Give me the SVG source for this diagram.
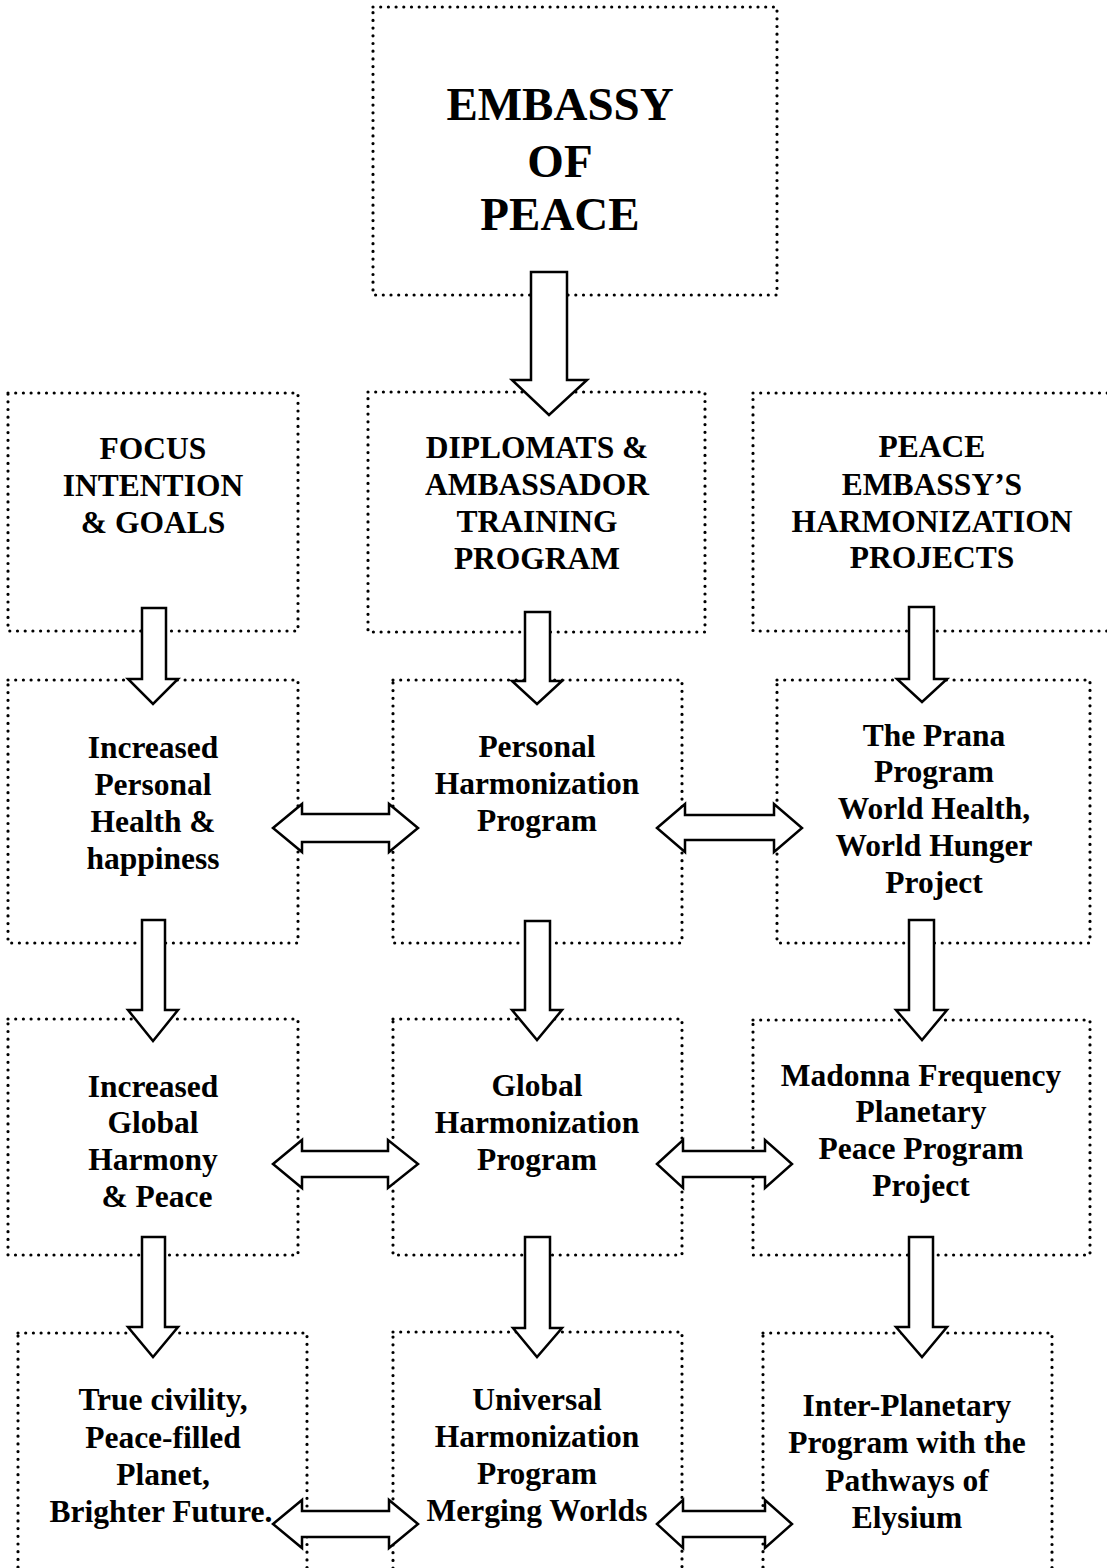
<svg xmlns="http://www.w3.org/2000/svg" width="1107" height="1568" viewBox="0 0 1107 1568">
<style>
.box{fill:none;stroke:#000;stroke-width:3.2;stroke-dasharray:0 7.7;stroke-linecap:round}
.arr{fill:#fff;stroke:#000;stroke-width:2.5;stroke-linejoin:miter}
text{font-family:"Liberation Serif","Times New Roman",serif;font-weight:bold;font-size:31.5px;text-anchor:middle;fill:#000}
.big{font-size:47px}
</style>
<rect x="0" y="0" width="1107" height="1568" fill="#fff"/>
<g id="n-embassy"><rect class="box" x="373" y="7" width="404" height="288"/><text class="big"><tspan x="560" y="120">EMBASSY</tspan><tspan x="560" y="177">OF</tspan><tspan x="560" y="230">PEACE</tspan></text></g>
<g id="n-focus"><rect class="box" x="8" y="393" width="290" height="238"/><text><tspan x="153" y="459">FOCUS</tspan><tspan x="153" y="496">INTENTION</tspan><tspan x="153" y="533">&amp; GOALS</tspan></text></g>
<g id="n-diplomats"><rect class="box" x="368" y="392" width="337" height="240"/><text><tspan x="537" y="458">DIPLOMATS &amp;</tspan><tspan x="537" y="495">AMBASSADOR</tspan><tspan x="537" y="532">TRAINING</tspan><tspan x="537" y="569">PROGRAM</tspan></text></g>
<g id="n-projects"><rect class="box" x="753" y="393" width="362" height="238"/><text><tspan x="932" y="457">PEACE</tspan><tspan x="932" y="495">EMBASSY’S</tspan><tspan x="932" y="532">HARMONIZATION</tspan><tspan x="932" y="568">PROJECTS</tspan></text></g>
<g id="n-health"><rect class="box" x="8" y="680" width="290" height="263"/><text><tspan x="153" y="758">Increased</tspan><tspan x="153" y="795">Personal</tspan><tspan x="153" y="832">Health &amp;</tspan><tspan x="153" y="869">happiness</tspan></text></g>
<g id="n-personal"><rect class="box" x="393" y="680" width="289" height="263"/><text><tspan x="537" y="757">Personal</tspan><tspan x="537" y="794">Harmonization</tspan><tspan x="537" y="831">Program</tspan></text></g>
<g id="n-prana"><rect class="box" x="777" y="680" width="313" height="263"/><text><tspan x="934" y="746">The Prana</tspan><tspan x="934" y="782">Program</tspan><tspan x="934" y="819">World Health,</tspan><tspan x="934" y="856">World Hunger</tspan><tspan x="934" y="893">Project</tspan></text></g>
<g id="n-harmony"><rect class="box" x="8" y="1019" width="290" height="236"/><text><tspan x="153" y="1097">Increased</tspan><tspan x="153" y="1133">Global</tspan><tspan x="153" y="1170">Harmony</tspan><tspan x="157" y="1207">&amp; Peace</tspan></text></g>
<g id="n-global"><rect class="box" x="393" y="1019" width="289" height="236"/><text><tspan x="537" y="1096">Global</tspan><tspan x="537" y="1133">Harmonization</tspan><tspan x="537" y="1170">Program</tspan></text></g>
<g id="n-madonna"><rect class="box" x="753" y="1020" width="337" height="235"/><text><tspan x="921" y="1086">Madonna Frequency</tspan><tspan x="921" y="1122">Planetary</tspan><tspan x="921" y="1159">Peace Program</tspan><tspan x="921" y="1196">Project</tspan></text></g>
<g id="n-civility"><rect class="box" x="18" y="1333" width="289" height="240"/><text><tspan x="163" y="1410">True civility,</tspan><tspan x="163" y="1448">Peace-filled</tspan><tspan x="163" y="1485">Planet,</tspan><tspan x="161" y="1522">Brighter Future.</tspan></text></g>
<g id="n-universal"><rect class="box" x="393" y="1332" width="289" height="241"/><text><tspan x="537" y="1410">Universal</tspan><tspan x="537" y="1447">Harmonization</tspan><tspan x="537" y="1484">Program</tspan><tspan x="537" y="1521">Merging Worlds</tspan></text></g>
<g id="n-interplanetary"><rect class="box" x="763" y="1333" width="289" height="240"/><text><tspan x="907" y="1416">Inter-Planetary</tspan><tspan x="907" y="1453">Program with the</tspan><tspan x="907" y="1491">Pathways of</tspan><tspan x="907" y="1528">Elysium</tspan></text></g>
<g id="connectors">
<path class="arr" d="M531 272 H567 V380 H587 L549 415 L512 380 H531 Z"/>
<path class="arr" d="M142 608 H166 V679 H178 L153 704 L128 679 H142 Z"/>
<path class="arr" d="M525 612 H550 V681 H562 L537 704 L512 681 H525 Z"/>
<path class="arr" d="M909 607 H934 V679 H947 L922 702 L897 679 H909 Z"/>
<path class="arr" d="M142 920 H165 V1010 H178 L153 1041 L128 1010 H142 Z"/>
<path class="arr" d="M525 921 H550 V1010 H562 L537 1040 L512 1010 H525 Z"/>
<path class="arr" d="M909 920 H934 V1010 H947 L922 1040 L896 1010 H909 Z"/>
<path class="arr" d="M142 1237 H165 V1327 H178 L153 1357 L128 1327 H142 Z"/>
<path class="arr" d="M525 1237 H550 V1328 H562 L537 1357 L513 1328 H525 Z"/>
<path class="arr" d="M909 1237 H933 V1327 H947 L922 1357 L896 1327 H909 Z"/>
<path class="arr" d="M273 828 L302 804 V814 H389 V804 L418 828 L389 852 V842 H302 V852 Z"/>
<path class="arr" d="M657 828 L685 804 V815 H774 V804 L802 828 L774 852 V840 H685 V852 Z"/>
<path class="arr" d="M273 1164 L302 1140 V1151 H388 V1140 L418 1164 L388 1188 V1177 H302 V1188 Z"/>
<path class="arr" d="M657 1164 L683 1140 V1151 H765 V1140 L792 1164 L765 1188 V1177 H683 V1188 Z"/>
<path class="arr" d="M273 1524 L302 1500 V1511 H389 V1500 L418 1524 L389 1548 V1537 H302 V1548 Z"/>
<path class="arr" d="M657 1524 L683 1500 V1511 H765 V1500 L792 1524 L765 1548 V1537 H683 V1548 Z"/>
</g>
</svg>
